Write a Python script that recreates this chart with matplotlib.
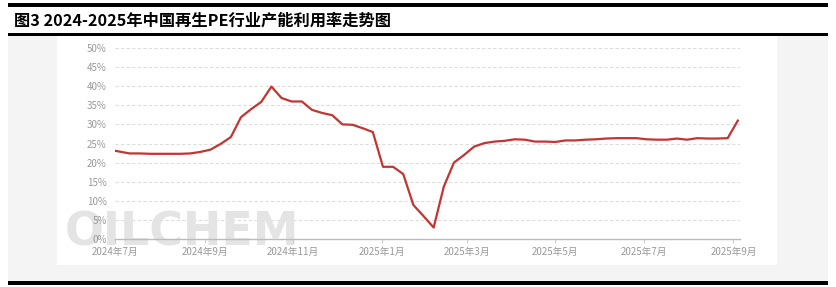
import matplotlib

matplotlib.use('Agg')
import matplotlib.pyplot as plt
import pandas as pd
from matplotlib.patches import Rectangle

plt.rcParams['font.family'] = ['Noto Sans CJK SC', 'DejaVu Sans']

# 数据：再生PE行业产能利用率（%），周度
first_date = ['2024-07-01']
weekly_start = '2024-07-11'
weekly_end = '2025-09-04'
rate = [
    23.1,
    22.4, 22.4, 22.3, 22.3, 22.3, 22.3, 22.4, 22.8, 23.4, 24.9,
    26.7, 31.9, 34.0, 35.9, 39.9, 36.9, 36.0, 36.0, 33.8, 33.0,
    32.4, 30.0, 29.9, 29.0, 28.0, 18.9, 18.9, 17.0, 8.9, 6.0,
    3.0, 13.7, 20.0, 22.0, 24.2, 25.1, 25.5, 25.7, 26.1, 26.0,
    25.5, 25.5, 25.4, 25.8, 25.8, 26.0, 26.1, 26.3, 26.4, 26.4,
    26.4, 26.1, 26.0, 26.0, 26.3, 26.0, 26.4, 26.3, 26.3, 26.4,
    31.0,
]
tick_dates = ['2024-07-01', '2024-09-01', '2024-11-01', '2025-01-01',
              '2025-03-01', '2025-05-01', '2025-07-01', '2025-09-01']
tick_labels = ['2024年7月', '2024年9月', '2024年11月', '2025年1月',
               '2025年3月', '2025年5月', '2025年7月', '2025年9月']
y_ticks = [0, 5, 10, 15, 20, 25, 30, 35, 40, 45, 50]

dates = pd.to_datetime(first_date).append(pd.date_range(weekly_start, weekly_end, freq='7D'))

W, H = 836, 287
fig = plt.figure(figsize=(W / 100, H / 100), dpi=100)
fig.patch.set_facecolor('white')

# 背景与边框线（像素坐标 -> 图形坐标）
def px_rect(x0, y0, x1, y1, color):
    fig.patches.append(Rectangle((x0 / W, 1 - y1 / H), (x1 - x0) / W, (y1 - y0) / H,
                                 transform=fig.transFigure, color=color, zorder=-10, lw=0))

px_rect(8, 36, 828, 281, '#f4f4f4')
px_rect(57, 36, 777, 265, 'white')
px_rect(8, 3, 828, 7, 'black')
px_rect(8, 33, 828, 36, 'black')
px_rect(8, 281, 828, 285, 'black')

fig.text(14 / W, 1 - 21 / H, '图3 2024-2025年中国再生PE行业产能利用率走势图',
         fontsize=11.7, fontweight='bold', va='center', ha='left')

ax = fig.add_axes([115 / W, 1 - 239 / H, (740 - 115) / W, (239 - 48) / H])
ax.set_facecolor('none')
ax.set_zorder(5)

# 水印
ax.text(-0.08, 0.03, 'OILCHEM', transform=ax.transAxes, fontsize=33, fontweight='bold',
        color='#e4e4e4', ha='left', va='center', zorder=1, family='DejaVu Sans')

ax.plot(dates, rate, color='#c23531', lw=1.6, zorder=3)

ax.set_ylim(0, 50)
ax.set_xlim(pd.Timestamp('2024-07-01'), pd.Timestamp('2025-09-05 12:00'))
ax.set_yticks(y_ticks)
ax.set_yticklabels([f'{v}%' for v in y_ticks])
ax.set_xticks(pd.to_datetime(tick_dates))
ax.set_xticklabels(tick_labels)

for v in y_ticks[1:]:
    ax.axhline(v, color='#dddddd', lw=0.8, ls=(0, (3, 2)), zorder=0)

for s in ['top', 'right', 'left']:
    ax.spines[s].set_visible(False)
ax.spines['bottom'].set_color('#bbbbbb')
ax.spines['bottom'].set_linewidth(1)
ax.tick_params(axis='y', length=0, pad=6, labelsize=7, labelcolor='#999999')
ax.tick_params(axis='x', length=3, color='#cccccc', pad=3, labelsize=7, labelcolor='#999999')

fig.savefig('out.png', dpi=100)
